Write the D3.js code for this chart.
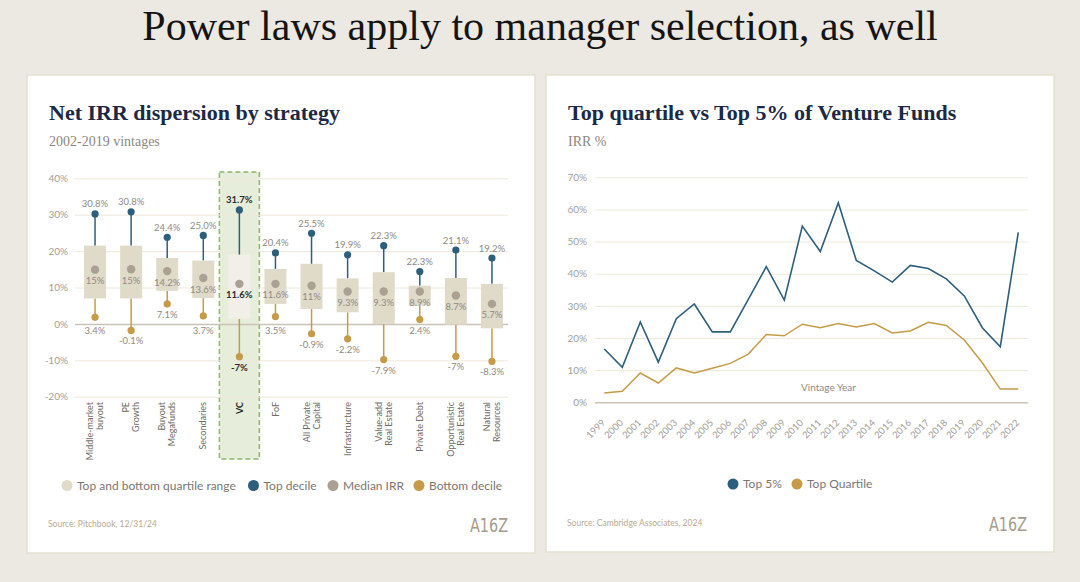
<!DOCTYPE html>
<html>
<head>
<meta charset="utf-8">
<script src="https://cdn.jsdelivr.net/npm/d3@7"></script>
<style>
    body { margin: 0; background: #ece9e2; }
    svg { display: block; }
</style>
</head>
<body>
<svg js-sel="chart" width="1080" height="582" font-family='Lato, "Liberation Sans", sans-serif'></svg>
<script>
// left chart: net IRR dispersion, values in %
const strategies = [
    ["Middle-market", "buyout"], ["PE", "Growth"], ["Buyout", "Megafunds"], ["Secondaries"],
    ["VC"], ["FoF"], ["All Private", "Capital"], ["Infrastructure"],
    ["Value-add", "Real Estate"], ["Private Debt"], ["Opportunistic", "Real Estate"], ["Natural", "Resources"]
];
const top_decile = [30.2, 30.8, 23.8, 24.3, 31.3, 19.5, 24.9, 19.0, 21.5, 14.4, 20.3, 18.1];
const upper_quartile = [21.5, 21.5, 18.1, 17.4, 19.0, 15.1, 16.5, 12.5, 14.2, 10.5, 12.6, 11.0];
const median_irr = [14.9, 15.0, 14.5, 12.6, 11.0, 11.0, 10.5, 8.9, 8.9, 8.9, 7.8, 5.5];
const lower_quartile = [7.0, 7.0, 9.1, 7.1, 1.4, 5.5, 4.1, 3.2, 0.0, 5.0, -0.2, -1.2];
const bottom_decile = [1.8, -1.8, 5.5, 2.2, -9.0, 2.0, -2.7, -4.1, -9.8, 1.2, -8.9, -10.3];
const top_labels = ["30.8%", "30.8%", "24.4%", "25.0%", "31.7%", "20.4%", "25.5%", "19.9%", "22.3%", "22.3%", "21.1%", "19.2%"];
const median_labels = ["15%", "15%", "14.2%", "13.6%", "11.6%", "11.6%", "11%", "9.3%", "9.3%", "8.9%", "8.7%", "5.7%"];
const bottom_labels = ["3.4%", "-0.1%", "7.1%", "3.7%", "-7%", "3.5%", "-0.9%", "-2.2%", "-7.9%", "2.4%", "-7%", "-8.3%"];
const irr_ticks = [-20, -10, 0, 10, 20, 30, 40];
const highlight = "VC";

// right chart: venture fund IRR by vintage year, %
const vintages = ["1999", "2000", "2001", "2002", "2003", "2004", "2005", "2006", "2007", "2008", "2009", "2010",
    "2011", "2012", "2013", "2014", "2015", "2016", "2017", "2018", "2019", "2020", "2021", "2022"];
const top_5 = [16.6, 10.9, 25.0, 12.5, 26.0, 30.6, 21.9, 21.9, 32.0, 42.2, 31.8, 54.8,
    46.9, 62.1, 44.1, 40.9, 37.4, 42.6, 41.6, 38.4, 33.1, 23.2, 17.3, 52.9];
const top_quartile = [2.9, 3.4, 9.1, 6.0, 10.7, 9.1, 10.6, 12.1, 15.0, 21.1, 20.7, 24.3,
    23.2, 24.5, 23.4, 24.5, 21.6, 22.2, 24.9, 23.9, 19.4, 12.3, 4.1, 4.1];
const vintage_ticks = [0, 10, 20, 30, 40, 50, 60, 70];

const BLUE = "#2d5f7d";
const GOLD = "#c59b48";
const TAUPE = "#aaa192";
const BOX = "#e0dac9";
const GRID = "#eee8da";
const ZERO = "#cbc4b6";
const TICK_TEXT = "#a39e98";
const LABEL_TEXT = "#8f8a84";
const SERIF = '"Liberation Serif", "DejaVu Serif", serif';

function panel(svg, x, y, w, h, title, subtitle, source) {
    const g = svg.append("g");
    g.append("rect")
        .attr("x", x).attr("y", y).attr("width", w).attr("height", h)
        .attr("fill", "#fff").attr("stroke", "#e4e0d1").attr("stroke-width", 1.5);
    g.append("text")
        .attr("x", x + 22).attr("y", y + 45)
        .attr("font-family", SERIF).attr("font-weight", "bold").attr("font-size", 22)
        .attr("fill", "#1b2947").text(title);
    g.append("text")
        .attr("x", x + 22).attr("y", y + 71)
        .attr("font-family", SERIF).attr("font-size", 14)
        .attr("fill", "#8c8781").text(subtitle);
    g.append("text")
        .attr("x", x + 21).attr("y", y + h - 26)
        .attr("font-size", 8.5).attr("fill", "#b9aa90").text(source);
    g.append("text")
        .attr("x", x + w - 27).attr("y", y + h - 21)
        .attr("text-anchor", "end")
        .attr("font-family", '"DejaVu Sans", "Liberation Sans", sans-serif')
        .attr("font-size", 20).attr("fill", "#a59c8b")
        .attr("textLength", 38).attr("lengthAdjust", "spacingAndGlyphs")
        .text("A16Z");
    return g;
}

function legend(g, items, y) {
    const item = g.selectAll(null).data(items).join("g")
        .attr("transform", d => `translate(${d.x},${y})`);
    item.append("circle").attr("r", 5.5).attr("fill", d => d.color);
    item.append("text")
        .attr("x", 10).attr("dy", "0.35em")
        .attr("font-size", 12).attr("fill", "#7b7671")
        .text(d => d.label);
}

function render_dispersion(svg) {
    const g = panel(svg, 27, 75, 508, 478, "Net IRR dispersion by strategy", "2002-2019 vintages", "Source: Pitchbook, 12/31/24");

    const names = strategies.map(s => s.join(" "));
    const x = d3.scaleBand().domain(names).range([77, 510]);
    const y = d3.scaleLinear().domain([-20, 40]).range([396.7, 178.3]);
    const cx = i => x(names[i]) + x.bandwidth() / 2;
    const box_w = 22;

    // highlighted column
    const hi = names.indexOf(highlight);
    g.append("rect")
        .attr("x", cx(hi) - 20).attr("y", 172)
        .attr("width", 40).attr("height", 287)
        .attr("fill", "#e6eedb").attr("stroke", "#8db56b")
        .attr("stroke-width", 1.5).attr("stroke-dasharray", "5,3");

    const y_axis = g.append("g")
        .attr("transform", "translate(75,0)")
        .call(d3.axisLeft(y).tickValues(irr_ticks).tickSize(-433).tickFormat(d => d + "%"));
    y_axis.select(".domain").remove();
    y_axis.selectAll(".tick line")
        .attr("stroke", d => d === 0 ? ZERO : GRID)
        .attr("stroke-width", d => d === 0 ? 1.5 : 1);
    y_axis.selectAll(".tick text")
        .attr("x", -7).attr("font-size", 10).attr("fill", TICK_TEXT);
    y_axis.attr("font-family", null);

    const idx = d3.range(names.length);
    const col = g.selectAll(null).data(idx).join("g");

    col.append("line")
        .attr("x1", cx).attr("x2", cx)
        .attr("y1", i => y(top_decile[i])).attr("y2", i => y(upper_quartile[i]))
        .attr("stroke", BLUE).attr("stroke-width", 1.5);
    col.append("line")
        .attr("x1", cx).attr("x2", cx)
        .attr("y1", i => y(lower_quartile[i])).attr("y2", i => y(bottom_decile[i]))
        .attr("stroke", GOLD).attr("stroke-width", 1.5);
    col.append("rect")
        .attr("x", i => cx(i) - box_w / 2).attr("width", box_w)
        .attr("y", i => y(upper_quartile[i]))
        .attr("height", i => y(lower_quartile[i]) - y(upper_quartile[i]))
        .attr("fill", i => i === hi ? "#f1efe7" : BOX);
    col.append("circle")
        .attr("cx", cx).attr("cy", i => y(top_decile[i])).attr("r", 3.6).attr("fill", BLUE);
    col.append("circle")
        .attr("cx", cx).attr("cy", i => y(bottom_decile[i])).attr("r", 3.6).attr("fill", GOLD);
    col.append("circle")
        .attr("cx", cx).attr("cy", i => y(median_irr[i])).attr("r", 4.2).attr("fill", TAUPE);

    const zero_y = y(0);
    const value_text = (sel) => sel
        .attr("x", cx).attr("text-anchor", "middle").attr("dominant-baseline", "central")
        .attr("font-size", 9.5)
        .attr("font-weight", i => i === hi ? "bold" : null)
        .attr("fill", i => i === hi ? "#2b2b2b" : LABEL_TEXT);

    col.append("text").call(value_text)
        .attr("y", i => y(top_decile[i]) - 10)
        .text(i => top_labels[i]);
    col.append("text").call(value_text)
        .attr("y", i => y(median_irr[i]) + 11)
        .text(i => median_labels[i]);
    col.append("text").call(value_text)
        .attr("y", i => {
            const ly = y(bottom_decile[i]) + 10.5;
            return Math.abs(ly - zero_y) < 7 ? zero_y + 7 : ly;
        })
        .text(i => bottom_labels[i]);

    // rotated category names
    col.append("text")
        .attr("transform", i => `translate(${cx(i) - (strategies[i].length - 1) * 5},402) rotate(-90)`)
        .attr("text-anchor", "end")
        .attr("font-size", 9)
        .attr("font-weight", i => i === hi ? "bold" : null)
        .attr("fill", i => i === hi ? "#1e1e1e" : "#6f6a65")
        .selectAll("tspan").data(i => strategies[i]).join("tspan")
        .attr("x", 0).attr("dy", (d, j) => j === 0 ? "0.35em" : 10)
        .text(d => d);

    legend(g, [
        {label: "Top and bottom quartile range", color: BOX, x: 67},
        {label: "Top decile", color: BLUE, x: 253.5},
        {label: "Median IRR", color: TAUPE, x: 333},
        {label: "Bottom decile", color: GOLD, x: 419}
    ], 485.5);
}

function render_vintages(svg) {
    const g = panel(svg, 546, 75, 508, 477, "Top quartile vs Top 5% of Venture Funds", "IRR %", "Source: Cambridge Associates, 2024");

    const x = d3.scalePoint().domain(vintages).range([604.3, 1018.3]);
    const y = d3.scaleLinear().domain([0, 70]).range([402.3, 177.3]);

    const y_axis = g.append("g")
        .attr("transform", "translate(595,0)")
        .call(d3.axisLeft(y).tickValues(vintage_ticks).tickSize(-433).tickFormat(d => d + "%"));
    y_axis.attr("font-family", null);
    y_axis.select(".domain").remove();
    y_axis.selectAll(".tick line")
        .attr("stroke", d => d === 0 ? ZERO : GRID)
        .attr("stroke-width", d => d === 0 ? 1.5 : 1);
    y_axis.selectAll(".tick text")
        .attr("x", -8).attr("font-size", 10).attr("fill", TICK_TEXT);

    const x_axis = g.append("g")
        .attr("transform", "translate(0,402.3)")
        .call(d3.axisBottom(x).tickSize(0));
    x_axis.attr("font-family", null);
    x_axis.select(".domain").remove();
    x_axis.selectAll(".tick text")
        .attr("font-size", 9.5).attr("fill", TICK_TEXT)
        .attr("text-anchor", "end")
        .attr("x", 0).attr("y", 0).attr("dy", 0)
        .attr("transform", "translate(1,21) rotate(-45)");

    g.append("text")
        .attr("x", 828.5).attr("y", 391)
        .attr("text-anchor", "middle")
        .attr("font-size", 10).attr("fill", LABEL_TEXT)
        .text("Vintage Year");

    const line = d3.line()
        .x((d, i) => x(vintages[i]))
        .y(d => y(d));

    g.append("path").datum(top_quartile)
        .attr("d", line).attr("fill", "none")
        .attr("stroke", GOLD).attr("stroke-width", 1.5);
    g.append("path").datum(top_5)
        .attr("d", line).attr("fill", "none")
        .attr("stroke", BLUE).attr("stroke-width", 1.6);

    legend(g, [
        {label: "Top 5%", color: BLUE, x: 733},
        {label: "Top Quartile", color: GOLD, x: 797}
    ], 484);
}

function render() {
    const svg = d3.select('[js-sel="chart"]');
    svg.selectAll("*").remove();

    svg.append("rect").attr("width", 1080).attr("height", 582).attr("fill", "#ece9e2");
    svg.append("text")
        .attr("x", 540).attr("y", 40)
        .attr("text-anchor", "middle")
        .attr("font-family", SERIF).attr("font-size", 42)
        .attr("fill", "#141414")
        .text("Power laws apply to manager selection, as well");

    render_dispersion(svg);
    render_vintages(svg);
}

render();
</script>
</body>
</html>
